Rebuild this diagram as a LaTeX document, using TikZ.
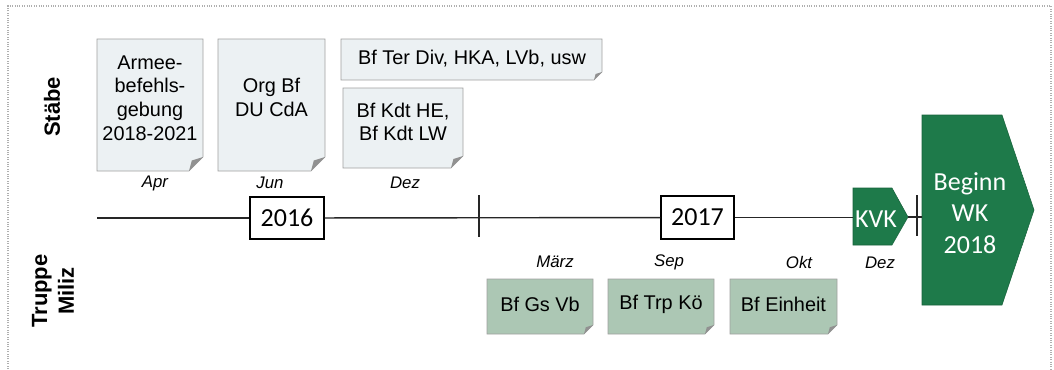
\documentclass[tikz,border=0pt]{standalone}
\usepackage{fontspec}
\setmainfont{Liberation Sans}
\newfontfamily\calfont{Carlito}
\usetikzlibrary{calc,fit}
\definecolor{notebg}{RGB}{236,241,243}
\definecolor{notegreen}{RGB}{172,199,180}
\definecolor{wkgreen}{RGB}{30,122,74}
\definecolor{edgegray}{RGB}{160,160,160}
\definecolor{foldgray}{RGB}{145,145,145}
\definecolor{framegray}{RGB}{175,175,175}
\newcommand\drawnote[3]{%
  \path[draw=edgegray,line width=0.5pt,fill=#3] (#1.north west) -- (#1.north east) -- ($(#1.south east)+(0,-#2)$) -- ($(#1.south east)+(-#2,0)$) -- (#1.south west) -- cycle;
  \fill[foldgray] ($(#1.south east)+(0,-#2)$) -- ($(#1.south east)+(-#2,0)$) -- ($(#1.south east)+(-0.8*#2,-0.75*#2)$) -- cycle;
}
\tikzset{
  notearea/.style={inner sep=0pt, outer sep=0pt},
  notetext/.style={align=center, inner sep=0pt, font=\fontsize{14.9}{17.8}\selectfont},
  month/.style={inner sep=0pt, font=\itshape\fontsize{12.6}{14}\selectfont},
  yearbox/.style={draw=black, line width=0.8pt, fill=white, inner sep=0pt, font=\calfont\fontsize{19.5}{22}\selectfont},
  greenshape/.style={fill=wkgreen, draw=wkgreen!80!black, line width=0.4pt},
  greentext/.style={text=white, inner sep=0pt, align=center, font=\calfont\fontsize{19.5}{23.6}\selectfont},
  timeline/.style={line width=1.05pt, draw=black!85},
  tickmark/.style={line width=2.2pt, draw=black!85},
  side/.style={rotate=90, align=center, inner sep=0pt, font=\bfseries\fontsize{16.5}{20}\selectfont}
}
\begin{document}
\begin{tikzpicture}[x=0.75pt,y=-0.75pt]
\useasboundingbox (0,0) rectangle (1054,369);
% frame
\draw[framegray, line width=0.8pt, densely dotted] (8,369) -- (8,6) -- (1051,6) -- (1051,369);
% side labels
\node[side] (staebe) at (52,107) {Stäbe};
\node[side] (truppe) at (53,291) {Truppe\\Miliz};
% Staebe notes
\node[notearea, fit={(97,39) (203,171)}] (n1) {};
\drawnote{n1}{14}{notebg}
\node[notetext] (t1) at (150,98) {Armee-\\befehls-\\gebung\\2018-2021};
\node[notearea, fit={(218,39) (325,171)}] (n2) {};
\drawnote{n2}{14}{notebg}
\node[notetext] (t2) at (271.5,97.5) {Org Bf\\DU CdA};
\node[notearea, fit={(341,39) (602,80)}] (n3) {};
\drawnote{n3}{8}{notebg}
\node[notetext] (t3) at (472,59) {Bf Ter Div, HKA, LVb, usw};
\node[notearea, fit={(343,88) (463,168)}] (n4) {};
\drawnote{n4}{12}{notebg}
\node[notetext] (t4) at (403,122) {Bf Kdt HE,\\Bf Kdt LW};
% months top
\node[month] (apr) at (155,183) {Apr};
\node[month] (jun) at (270,183) {Jun};
\node[month] (dez1) at (405,183) {Dez};
% green shapes
\coordinate (kvkl) at (853,217);
\coordinate (kvkt) at (908,217);
\fill[greenshape] (853,188) -- (892,188) -- (kvkt) -- (892,245) -- (853,245) -- cycle;
\node[greentext] (kvk) at (876,219) {KVK};
\coordinate (wkl) at (922,217);
\fill[greenshape] (922,115) -- (1002,115) -- (1034,210) -- (1002,305) -- (922,305) -- cycle;
\node[greentext] (wk) at (970,213) {Beginn\\WK\\2018};
% timeline
\coordinate (tstart) at (97,218);
\node[yearbox, minimum width=55.5pt, minimum height=31.5pt] (y2016) at (287,218) {2016};
\node[yearbox, minimum width=54.75pt, minimum height=32.25pt] (y2017) at (697.5,217.5) {2017};
\draw[timeline] (tstart) -- (y2016);
\draw[timeline] (y2016) -- (y2017);
\draw[timeline] (y2017) -- (y2017 -| kvkl);
\draw[timeline] (kvkt) -- (wkl);
\coordinate (tk1a) at (479,195); \coordinate (tk1b) at (479,237);
\draw[tickmark] (tk1a) -- (tk1b);
\coordinate (tk2a) at (917,195); \coordinate (tk2b) at (917,236);
\draw[tickmark] (tk2a) -- (tk2b);
% months bottom
\node[month] (maerz) at (555,262) {März};
\node[month] (sep) at (669,262) {Sep};
\node[month] (okt) at (799,262) {Okt};
\node[month] (dez2) at (880,263) {Dez};
% Truppe notes
\node[notearea, fit={(487,279) (593,334)}] (m1) {};
\drawnote{m1}{9}{notegreen}
\node[notetext] (u1) at (540,304) {Bf Gs Vb};
\node[notearea, fit={(608,279) (714,334)}] (m2) {};
\drawnote{m2}{9}{notegreen}
\node[notetext] (u2) at (661,304) {Bf Trp Kö};
\node[notearea, fit={(730,279) (837,334)}] (m3) {};
\drawnote{m3}{9}{notegreen}
\node[notetext] (u3) at (783.5,304) {Bf Einheit};
\end{tikzpicture}
\end{document}
